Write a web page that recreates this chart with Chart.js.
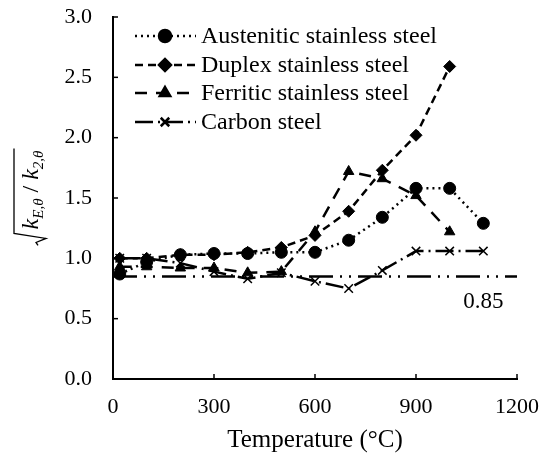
<!DOCTYPE html>
<html>
<head>
<meta charset="utf-8">
<script src="https://cdn.jsdelivr.net/npm/chart.js@4"></script>
<style>
  html, body { margin: 0; padding: 0; background: #fff; }
  #wrap { width: 544px; height: 459px; position: relative; }
</style>
</head>
<body>
<div id="wrap"><canvas id="chart"></canvas></div>
<script>
// temperatures (°C)
const temps = [20, 100, 200, 300, 400, 500, 600, 700, 800, 900, 1000, 1100];

const austenitic = [0.87, 0.97, 1.03, 1.04, 1.04, 1.05, 1.05, 1.15, 1.34, 1.58, 1.58, 1.29];
const duplex = [1.0, 1.0, 1.03, 1.03, 1.05, 1.09, 1.19, 1.39, 1.73, 2.02, 2.59];
const ferritic = [0.93, 0.93, 0.92, 0.92, 0.88, 0.89, 1.22, 1.72, 1.66, 1.52, 1.22];
const carbon = [1.0, 1.0, 0.96, 0.89, 0.83, 0.88, 0.81, 0.75, 0.90, 1.06, 1.06, 1.06];

const refLimit = 0.85;
const xTicks = [0, 300, 600, 900, 1200];
const yTicks = [0, 0.5, 1.0, 1.5, 2.0, 2.5, 3.0];

const FONT = "'Liberation Serif', 'Times New Roman', serif";

function pts(vals) {
  return vals.map((v, i) => ({ x: temps[i], y: v }));
}

const datasets = [
  {
    label: "Austenitic stainless steel",
    data: pts(austenitic),
    borderDash: [2, 4],
    pointStyle: "circle",
    pointRadius: 6
  },
  {
    label: "Duplex stainless steel",
    data: pts(duplex),
    borderDash: [8, 5],
    pointStyle: "rectRot",
    pointRadius: 6
  },
  {
    label: "Ferritic stainless steel",
    data: pts(ferritic),
    borderDash: [12, 9],
    pointStyle: "triangle",
    pointRadius: 6
  },
  {
    label: "Carbon steel",
    data: pts(carbon),
    borderDash: [18, 5, 2, 5],
    pointStyle: "crossRot",
    pointRadius: 6,
    pointBorderWidth: 1.5
  },
  {
    label: "limit",
    data: [{ x: 0, y: refLimit }, { x: 1200, y: refLimit }],
    borderDash: [24, 7, 2, 7, 2, 7],
    pointRadius: 0,
    noLegend: true
  }
];

datasets.forEach(d => {
  d.borderColor = "#000";
  d.backgroundColor = "#000";
  d.borderWidth = 2.5;
  d.tension = 0;
  if (d.pointBorderWidth === undefined) d.pointBorderWidth = 1;
});

// inward tick marks, y title, legend and label
const decor = {
  id: "decor",
  afterDraw(chart) {
    const ctx = chart.ctx;
    const xs = chart.scales.x, ys = chart.scales.y;
    const area = chart.chartArea;
    ctx.save();
    ctx.strokeStyle = "#000";
    ctx.lineWidth = 1.5;
    ctx.setLineDash([]);
    xTicks.forEach(t => {
      const px = xs.getPixelForValue(t);
      ctx.beginPath();
      ctx.moveTo(px, area.bottom);
      ctx.lineTo(px, area.bottom - 5);
      ctx.stroke();
    });
    yTicks.forEach(t => {
      const py = ys.getPixelForValue(t);
      ctx.beginPath();
      ctx.moveTo(area.left, py);
      ctx.lineTo(area.left + 5, py);
      ctx.stroke();
    });

    // 0.85 label
    ctx.fillStyle = "#000";
    ctx.font = "23px " + FONT;
    ctx.textAlign = "left";
    ctx.textBaseline = "middle";
    ctx.fillText("0.85", xs.getPixelForValue(1040), ys.getPixelForValue(0.64));

    // legend
    ctx.font = "24px " + FONT;
    const rows = [36, 65, 93, 122];
    chart.data.datasets.forEach((d, i) => {
      if (d.noLegend) return;
      const y = rows[i];
      ctx.setLineDash(d.borderDash);
      ctx.lineWidth = d.borderWidth;
      ctx.beginPath();
      ctx.moveTo(135, y);
      ctx.lineTo(196, y);
      ctx.stroke();
      ctx.setLineDash([]);
      Chart.helpers.drawPoint(ctx, {
        pointStyle: d.pointStyle,
        radius: d.pointRadius,
        borderWidth: d.pointBorderWidth
      }, 165, y);
      ctx.fill();
      ctx.fillText(d.label, 201, y + 1);
    });

    // y-axis title: sqrt(kE,θ / k2,θ)
    ctx.translate(34, (area.top + area.bottom) / 2);
    ctx.rotate(-Math.PI / 2);
    const big = "italic 24px " + FONT;
    const sub = "italic 15px " + FONT;
    const parts = [
      { t: "k", f: big, dy: 0 },
      { t: "E,θ", f: sub, dy: 5 },
      { t: " / ", f: "24px " + FONT, dy: 0 },
      { t: "k", f: big, dy: 0 },
      { t: "2,θ", f: sub, dy: 5 }
    ];
    let w = 0;
    parts.forEach(p => { ctx.font = p.f; p.w = ctx.measureText(p.t).width; w += p.w; });
    const rad = 14;
    const total = w + rad + 2;
    let x = -total / 2;
    ctx.textAlign = "left";
    ctx.textBaseline = "alphabetic";
    // radical
    ctx.lineWidth = 1.3;
    ctx.beginPath();
    ctx.moveTo(x, 4);
    ctx.lineTo(x + 3, 2);
    ctx.lineTo(x + 7, 12);
    ctx.lineTo(x + rad - 2, -20);
    ctx.lineTo(x + total + 2, -20);
    ctx.stroke();
    x += rad + 2;
    parts.forEach(p => {
      ctx.font = p.f;
      ctx.fillText(p.t, x, 4 + p.dy);
      x += p.w;
    });
    ctx.restore();
  }
};

new Chart(document.getElementById("chart"), {
  type: "line",
  data: { datasets: datasets },
  plugins: [decor],
  options: {
    responsive: true,
    maintainAspectRatio: false,
    animation: false,
    layout: { padding: { top: 17, right: 27, left: 0, bottom: 0 } },
    plugins: { legend: { display: false }, tooltip: { enabled: false } },
    scales: {
      x: {
        type: "linear",
        min: 0,
        max: 1200,
        afterBuildTicks: s => { s.ticks = xTicks.map(v => ({ value: v })); },
        afterFit: s => { s.height = 80; s.paddingLeft = 0; s.paddingRight = 0; },
        grid: { display: false, drawTicks: false },
        border: { display: true, color: "#000", width: 2 },
        ticks: {
          color: "#000",
          padding: 15,
          maxRotation: 0,
          font: { family: FONT, size: 22 },
          callback: v => String(v)
        },
        title: {
          display: true,
          text: "Temperature (°C)",
          color: "#000",
          font: { family: FONT, size: 25 },
          padding: { top: 2 }
        }
      },
      y: {
        min: 0,
        max: 3,
        afterBuildTicks: s => { s.ticks = yTicks.map(v => ({ value: v })); },
        afterFit: s => { s.width = 113; s.paddingTop = 0; s.paddingBottom = 0; },
        grid: { display: false, drawTicks: false },
        border: { display: true, color: "#000", width: 2 },
        ticks: {
          color: "#000",
          padding: 21,
          font: { family: FONT, size: 22 },
          callback: v => v.toFixed(1)
        }
      }
    }
  }
});
</script>
</body>
</html>
